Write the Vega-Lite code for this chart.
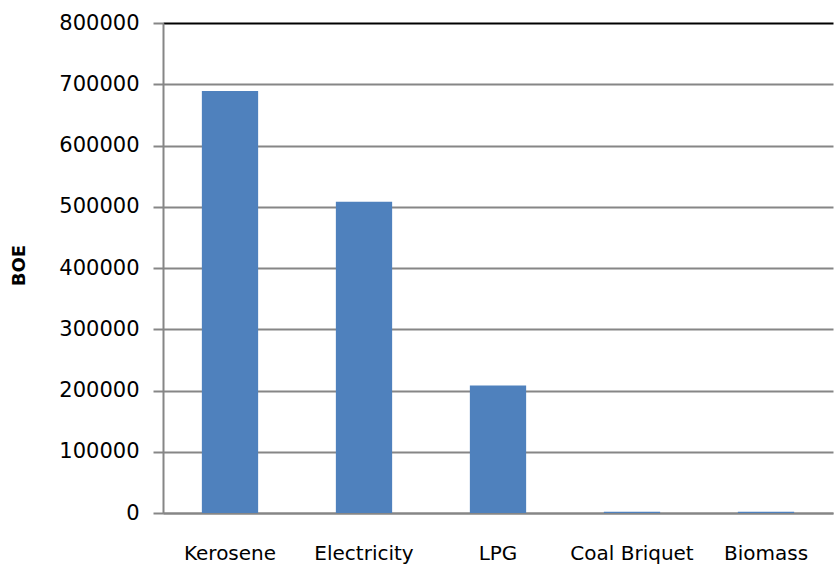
{
  "$schema": "https://vega.github.io/schema/vega-lite/v6.json",
  "autosize": {"type": "none"},
  "width": 670,
  "height": 490,
  "padding": {"left": 163, "top": 23, "right": 3, "bottom": 57},
  "background": "white",
  "data": {
    "values": [
      {"fuel": "Kerosene", "boe": 689000},
      {"fuel": "Electricity", "boe": 508000},
      {"fuel": "LPG", "boe": 208000},
      {"fuel": "Coal Briquet", "boe": 2000},
      {"fuel": "Biomass", "boe": 2000}
    ]
  },
  "config": {
    "view": {"stroke": null},
    "font": "DejaVu Sans"
  },
  "mark": {"type": "bar", "color": "#4F81BD"},
  "encoding": {
    "x": {
      "field": "fuel",
      "type": "nominal",
      "sort": null,
      "scale": {"paddingInner": 0.58, "paddingOuter": 0.29},
      "axis": {
        "title": null,
        "labelAngle": 0,
        "labelFont": "DejaVu Sans",
        "labelFontSize": 20,
        "labelColor": "#000000",
        "labelPadding": 30,
        "ticks": false,
        "domainColor": "#868686",
        "domainWidth": 2,
        "grid": false
      }
    },
    "y": {
      "field": "boe",
      "type": "quantitative",
      "scale": {"domain": [0, 800000], "nice": false},
      "axis": {
        "title": "BOE",
        "titleFont": "DejaVu Sans",
        "titleFontSize": 18,
        "titleFontWeight": "bold",
        "titleColor": "#000000",
        "titleX": -135,
        "titleY": 242,
        "values": [0, 100000, 200000, 300000, 400000, 500000, 600000, 700000, 800000],
        "format": "d",
        "labelFont": "DejaVu Sans",
        "labelFontSize": 21,
        "labelColor": "#000000",
        "labelPadding": 14,
        "tickSize": 10,
        "tickColor": "#868686",
        "tickWidth": 2,
        "domainColor": "#868686",
        "domainWidth": 2,
        "grid": true,
        "gridColor": {"condition": {"test": "datum.value == 800000", "value": "#000000"}, "value": "#868686"},
        "gridWidth": 2
      }
    }
  }
}
